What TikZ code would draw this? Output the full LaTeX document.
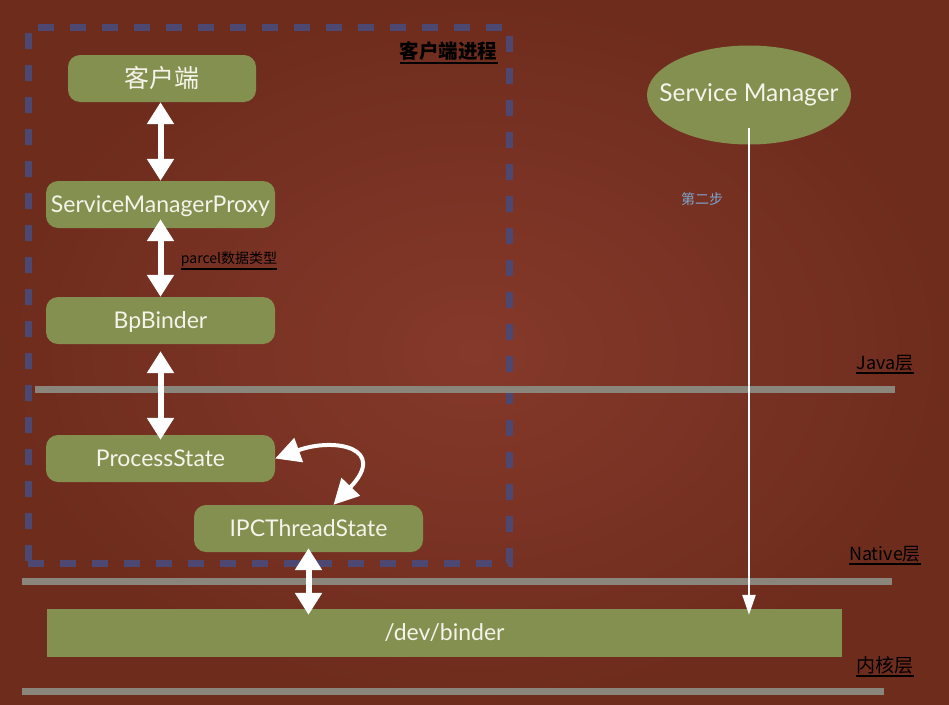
\documentclass[tikz,border=0pt]{standalone}
\usepackage{fontspec}
\setmainfont{Lato}
\newfontfamily\cjk{Noto Sans CJK SC}
\usetikzlibrary{arrows.meta,positioning,shapes.geometric}

\definecolor{bgin}{HTML}{85392A}
\definecolor{bgout}{HTML}{6E2C1D}
\definecolor{boxgreen}{HTML}{84904F}
\definecolor{boxtext}{HTML}{F5F3EA}
\definecolor{procblue}{HTML}{4D4872}
\definecolor{layergrey}{HTML}{8A867C}
\definecolor{steptext}{HTML}{7EA4CC}

\begin{document}
\begin{tikzpicture}[
    x=1pt, y=-1pt,
    box/.style={rectangle, fill=boxgreen, rounded corners=12pt, minimum width=229pt, minimum height=47pt, align=center, text=boxtext, text height=17pt, text depth=2pt, font=\fontsize{23}{23}\selectfont},
    biarrow/.style={{Triangle[width=26pt,length=22pt]}-{Triangle[width=26pt,length=22pt]}, white, line width=6pt},
    curvearrow/.style={{Triangle[width=25pt,length=25pt]}-{Triangle[width=25pt,length=25pt]}, white, line width=4pt},
    steparrow/.style={-{Triangle[width=13pt,length=20pt]}, white, line width=2.5pt},
    layerline/.style={layergrey, line width=7pt},
    tag/.style={font=\cjk\fontsize{18}{18}\selectfont, text=black, inner xsep=0pt, inner ysep=2pt,
        append after command={(\tikzlastnode.south west) edge[draw=black, line width=2pt] (\tikzlastnode.south east)}}
]

% background
\useasboundingbox (0,0) rectangle (949,704);
\shade[inner color=bgin, outer color=bgout] (0,0) rectangle (949,704);

% client process frame
\node[draw=procblue, line width=7pt, dash pattern=on 16pt off 16pt, minimum width=481pt, minimum height=536pt, inner sep=0pt] (proc) at (268.5,295) {};
\node[tag, font=\cjk\bfseries\fontsize{19.5}{19.5}\selectfont, below left=16pt and 15pt of proc.north east] (proclabel) {客户端进程};

% layers
\draw[layerline] (35,389) -- (895,389);
\draw[layerline] (22,581) -- (892,581);
\draw[layerline] (22,691) -- (884,691);
\node[tag] (javalabel) at (885,363) {Java层};
\node[tag] (nativelabel) at (885,554) {Native层};
\node[tag, font=\cjk\fontsize{19}{19}\selectfont] (kernellabel) at (885,665) {内核层};

% components
\node[box, minimum width=188pt, font=\cjk\fontsize{25}{25}\selectfont, text height=20pt, text depth=2pt] (client) at (162,78.5) {客户端};
\node[box] (proxy) at (160.5,204.5) {ServiceManagerProxy};
\node[box] (bpbinder) at (160.5,320.5) {BpBinder};
\node[box] (procstate) at (160.5,458.5) {ProcessState};
\node[box] (ipcstate) at (308.5,528.5) {IPCThreadState};
\node[rectangle, fill=boxgreen, minimum width=795pt, minimum height=48pt, text=boxtext, font=\fontsize{23}{23}\selectfont] (devbinder) at (444.5,633) {/dev/binder};
\node[ellipse, fill=boxgreen, minimum width=204pt, minimum height=99pt, inner sep=0pt,
    label={[text=boxtext, font=\fontsize{24.5}{24.5}\selectfont]center:Service Manager}] (svcmgr) at (749,95) {};

\node[tag, font=\cjk\fontsize{14}{14}\selectfont] (parcel) at (229,259) {parcel数据类型};
\node[font=\cjk\fontsize{14}{14}\selectfont, text=steptext] (step2) at (702,199) {第二步};

% connections
\draw[biarrow] (proxy.north |- client.south) -- (proxy.north);
\draw[biarrow] ([yshift=9pt]proxy.south) -- (bpbinder.north);
\draw[biarrow] ([yshift=-7pt]bpbinder.south) -- ([yshift=-5pt]procstate.north);
\draw[biarrow] ([yshift=4pt]ipcstate.south) -- ([yshift=-6pt]ipcstate.south |- devbinder.north);
\draw[curvearrow] (procstate.east) .. controls (335,437) and (388,448) .. ([xshift=25pt]ipcstate.north);

\coordinate (smend) at (svcmgr |- devbinder.north);
\draw[steparrow] ([yshift=-33pt]svcmgr.center) -- ([yshift=-6pt]smend);

\end{tikzpicture}
\end{document}
